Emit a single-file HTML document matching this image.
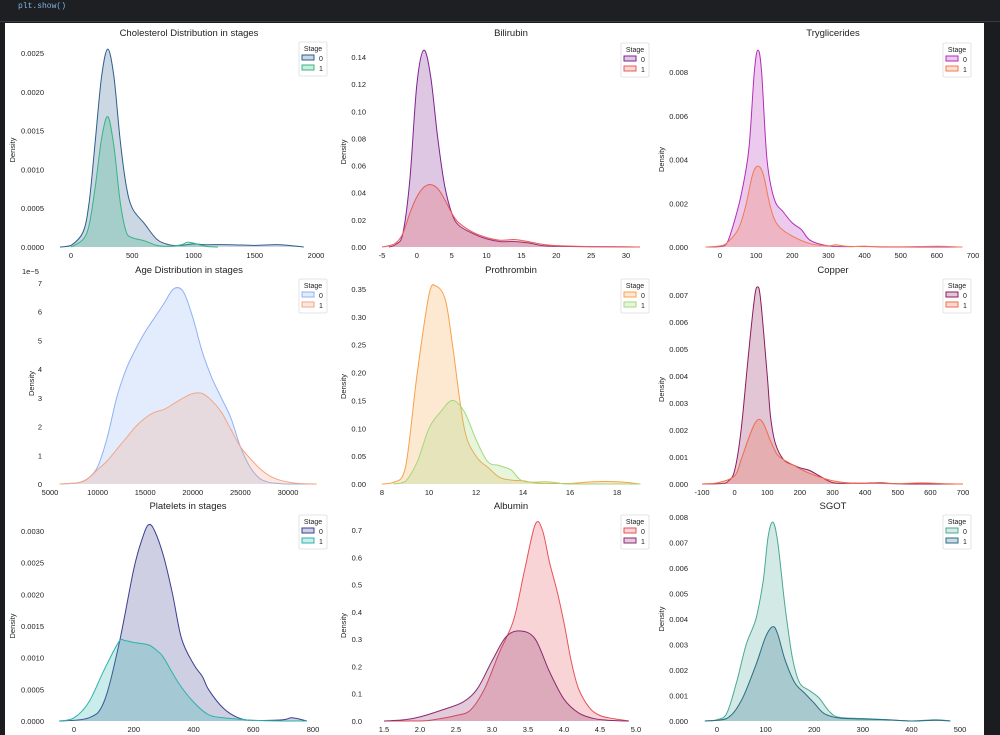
<!DOCTYPE html>
<html><head><meta charset="utf-8">
<style>
body{margin:0;width:1000px;height:735px;background:#1b1c1f;overflow:hidden;font-family:"Liberation Sans",sans-serif}
#top{position:absolute;left:0;top:0;width:1000px;height:21px;background:#1e1f22;border-bottom:1px solid #3a3b3e}
#code{position:absolute;left:18px;top:2px;font:8px "Liberation Mono",monospace;color:#7fb3e8}
#panel{position:absolute;left:5px;top:23px;width:979px;height:712px;background:#fff}
svg{position:absolute;left:0;top:0}
</style></head><body>
<div id="top"><span id="code">plt.show()</span></div>
<div id="panel"></div>
<svg id="fig" width="1000" height="735"></svg>
<script>
// ---- data ----
const cholX0=[-90,0,100,150,200,250,300,350,400,450,500,600,700,800,900,1000,1100,1300,1500,1700,1900];
const chol0=[0,0.00002,0.0002,0.0006,0.0014,0.0022,0.00255,0.0022,0.0014,0.0008,0.0005,0.0003,0.0001,0.00003,0.00002,0.00004,0.00003,0.00003,0.00002,0.00003,0];
const cholX1=[0,100,150,200,250,300,350,400,450,500,600,700,800,900,950,1000,1100,1200];
const chol1=[0,0.0001,0.0003,0.0008,0.0014,0.00168,0.0013,0.0006,0.0002,0.00012,0.00008,0.00002,0.00001,0.00003,0.00006,0.00005,0.00001,0];
const biliX0=[-4,-3,-2,-1,0,1,2,3,4,5,6,8,10,12,14,16,18,20,25,30,32];
const bili0=[0,0.002,0.01,0.05,0.12,0.145,0.125,0.08,0.045,0.025,0.016,0.01,0.006,0.004,0.004,0.003,0.001,0.0005,0.0002,0.0001,0];
const biliX1=[-5,-4,-3,-2,-1,0,1,2,3,4,5,6,8,10,12,14,16,18,20,25,30,32];
const bili1=[0,0.001,0.003,0.01,0.025,0.037,0.044,0.046,0.043,0.035,0.025,0.018,0.011,0.007,0.005,0.0055,0.004,0.002,0.001,0.0003,0.0001,0];
const trigX0=[-40,0,20,40,60,80,95,105,115,130,150,175,200,225,250,300,350,400,450,600,670];
const trig0=[0,0.00002,0.0002,0.0012,0.0025,0.0045,0.008,0.009,0.008,0.004,0.0022,0.0016,0.0011,0.0008,0.0003,0.00005,0.00002,0.00003,0,0,0];
const trigX1=[-40,0,20,50,70,90,105,120,140,160,200,250,300,320,350,400,500,600,670];
const trig1=[0,0.00005,0.0002,0.0008,0.0018,0.0033,0.0037,0.0033,0.0018,0.001,0.0005,0.00015,0.00005,0.0001,0.00003,0.00002,0.00001,0.00003,0];
const ageX0=[6000,8000,9000,10000,11000,12000,13000,14000,15000,16000,17000,18000,19000,20000,21000,22000,23000,24000,25000,26000,27000,28000,29000,30000,33000];
const age0=[0,0.05,0.2,0.6,1.6,3,4,4.7,5.3,5.8,6.3,6.8,6.7,5.8,4.6,3.7,3,2.3,1.3,0.6,0.2,0.06,0.02,0,0];
const ageX1=[6000,8000,9000,10000,11000,12000,13000,14000,15000,16000,17000,18000,19000,20000,21000,22000,23000,24000,25000,26000,27000,28000,29000,30000,31000,33000];
const age1=[0,0.05,0.2,0.5,0.8,1.2,1.6,2,2.3,2.5,2.6,2.8,3,3.15,3.15,2.9,2.5,1.9,1.3,0.9,0.55,0.3,0.15,0.07,0.02,0];
const proX0=[8,8.5,9,9.5,10,10.3,10.7,11,11.5,12,12.5,13,13.5,14,14.5,15,16,17,18,19];
const pro0=[0,0.003,0.03,0.2,0.34,0.355,0.33,0.25,0.1,0.05,0.03,0.012,0.007,0.006,0.002,0.001,0.001,0.004,0.004,0];
const proX1=[8.5,9,9.5,10,10.5,11,11.5,12,12.5,13,13.5,14,15,15.5,16,19];
const pro1=[0,0.005,0.04,0.1,0.13,0.15,0.13,0.08,0.04,0.033,0.025,0.005,0.004,0.002,0,0];
const cuX0=[-100,-40,-20,0,20,40,60,70,80,100,110,125,150,180,200,230,260,300,350,400,450,500,600,700];
const cu0=[0,0.00002,0.0001,0.0005,0.002,0.0045,0.0068,0.0073,0.0068,0.004,0.0025,0.0015,0.0009,0.0007,0.0006,0.0005,0.0003,0.00005,0.00003,0.00003,0.00004,0.00001,0,0];
const cuX1=[-100,-50,0,20,40,60,75,90,110,130,150,180,210,250,300,350,400,500,570,650,700];
const cu1=[0,0.00005,0.0003,0.0009,0.0016,0.0022,0.0024,0.0022,0.0016,0.0011,0.0009,0.0007,0.0005,0.0003,0.00012,0.00004,0.00003,0.00001,0.00004,0.00001,0];
const platX0=[-50,50,100,150,200,230,250,270,300,330,360,400,430,450,500,550,600,700,730,780];
const plat0=[0,0.00005,0.0003,0.0012,0.0024,0.0029,0.0031,0.003,0.0026,0.002,0.0013,0.0009,0.0007,0.0005,0.0002,0.00005,0.00001,0.00002,0.00005,0];
const platX1=[-50,0,50,100,150,170,200,250,280,300,350,400,450,500,550,600,700,780];
const plat1=[0,0.00005,0.0003,0.0008,0.00125,0.00127,0.00124,0.0012,0.0011,0.001,0.0006,0.0003,0.0001,0.00005,0.00003,0.00001,0,0];
const albX0=[1.5,2,2.2,2.5,2.7,2.9,3.1,3.3,3.45,3.6,3.7,3.8,3.9,4.0,4.1,4.2,4.35,4.5,4.7,4.9];
const alb0=[0,0,0.005,0.02,0.04,0.12,0.25,0.37,0.55,0.72,0.7,0.58,0.48,0.36,0.22,0.12,0.05,0.02,0.008,0];
const albX1=[1.5,1.8,2.0,2.3,2.6,2.8,3.0,3.2,3.4,3.6,3.8,4.0,4.2,4.4,4.6,4.9];
const alb1=[0,0.005,0.015,0.04,0.07,0.12,0.22,0.31,0.33,0.3,0.18,0.08,0.03,0.01,0.003,0];
const sgX0=[-25,0,20,40,60,80,95,105,115,125,140,155,170,190,210,230,250,300,350,400,450,480];
const sg0=[0,0.00005,0.0003,0.0015,0.003,0.004,0.0055,0.0072,0.0078,0.007,0.0045,0.0025,0.0015,0.0012,0.0009,0.0004,0.00015,0.0001,0.00005,0,0.00005,0];
const sgX1=[-25,20,50,80,100,115,125,140,160,180,200,220,250,300,350,400,450,480];
const sg1=[0,0.0001,0.0008,0.0022,0.0033,0.0037,0.0034,0.0024,0.0015,0.0011,0.0007,0.0003,0.00012,0.00008,0.00005,0,0.00003,0];
const cholTicksX=[0,500,1000,1500,2000], cholTicksY=[0,0.0005,0.001,0.0015,0.002,0.0025];
const biliTicksX=[-5,0,5,10,15,20,25,30], biliTicksY=[0,0.02,0.04,0.06,0.08,0.1,0.12,0.14];
const trigTicksX=[0,100,200,300,400,500,600,700], trigTicksY=[0,0.002,0.004,0.006,0.008];
const ageTicksX=[5000,10000,15000,20000,25000,30000], ageTicksY=[0,1,2,3,4,5,6,7];
const proTicksX=[8,10,12,14,16,18], proTicksY=[0,0.05,0.1,0.15,0.2,0.25,0.3,0.35];
const cuTicksX=[-100,0,100,200,300,400,500,600,700], cuTicksY=[0,0.001,0.002,0.003,0.004,0.005,0.006,0.007];
const platTicksX=[0,200,400,600,800], platTicksY=[0,0.0005,0.001,0.0015,0.002,0.0025,0.003];
const albTicksX=[1.5,2,2.5,3,3.5,4,4.5,5], albTicksY=[0,0.1,0.2,0.3,0.4,0.5,0.6,0.7];
const sgTicksX=[0,100,200,300,400,500], sgTicksY=[0,0.001,0.002,0.003,0.004,0.005,0.006,0.007,0.008];

const NS='http://www.w3.org/2000/svg';
const fig=document.getElementById('fig');
function el(tag,attrs,parent){const e=document.createElementNS(NS,tag);for(const k in attrs)e.setAttribute(k,attrs[k]);(parent||fig).appendChild(e);return e;}
let ybase=0;
function smooth(pts){let d='M'+pts[0][0]+','+pts[0][1];
 for(let i=0;i<pts.length-1;i++){const p0=pts[Math.max(0,i-1)],p1=pts[i],p2=pts[i+1],p3=pts[Math.min(pts.length-1,i+2)];
  const c1=[p1[0]+(p2[0]-p0[0])/6,p1[1]+(p2[1]-p0[1])/6],c2=[p2[0]-(p3[0]-p1[0])/6,p2[1]-(p3[1]-p1[1])/6];
  d+=' C'+c1[0].toFixed(1)+','+Math.min(c1[1],ybase).toFixed(1)+' '+c2[0].toFixed(1)+','+Math.min(c2[1],ybase).toFixed(1)+' '+p2[0].toFixed(1)+','+p2[1].toFixed(1);}
 return d;}
function panel(cfg){
 const g=el('g',{});
 
 
 const sx=v=>cfg.x0p+(v-cfg.x0v)*(cfg.x1p-cfg.x0p)/(cfg.x1v-cfg.x0v);
 const sy=v=>cfg.y0p+(v)*(cfg.y1p-cfg.y0p)/(cfg.y1v);
 ybase=cfg.y0p;
 const t=el('text',{x:cfg.tx,y:cfg.ty,'text-anchor':'middle','font-size':9.5,fill:'#222'},g);t.textContent=cfg.title;
 
 
 cfg.ticksX.forEach(v=>{const e=el('text',{x:sx(v),y:cfg.y0p+11,'text-anchor':'middle','font-size':7.5,fill:'#222'},g);e.textContent=cfg.fx(v);
  
  });
 cfg.ticksY.forEach(v=>{const e=el('text',{x:cfg.ylx,y:sy(v)+3,'text-anchor':'end','font-size':7.5,fill:'#222'},g);e.textContent=cfg.fy(v);
  
  });
 const yl=el('text',{x:0,y:0,transform:'translate('+cfg.dx+','+((cfg.y0p+cfg.y1p)/2)+') rotate(-90)','text-anchor':'middle','font-size':7.5,fill:'#222'},g);yl.textContent='Density';
 
 
 if(cfg.exp){const e=el('text',{x:cfg.ylx-20,y:cfg.y1p-9,'font-size':7.5,fill:'#222'},g);e.textContent=cfg.exp;
  
  }
 cfg.series.forEach((s,i)=>{
  const pts=s.x.map((xv,j)=>[sx(xv),sy(s.y[j])]);
  const d=smooth(pts);
  const f=el('path',{d:d+' L'+pts[pts.length-1][0]+','+cfg.y0p+' L'+pts[0][0]+','+cfg.y0p+' Z',fill:s.c,'fill-opacity':0.25,stroke:'none'},g);
  
  
  const l=el('path',{d:d,fill:'none',stroke:s.c,'stroke-width':1},g);
  
  
 });
 const lx=cfg.lx, ly=cfg.ly;
 const lg=el('g',{},g);
 
 
 el('rect',{x:lx,y:ly,width:28,height:34,fill:'#fff',stroke:'#ddd','stroke-width':0.8,rx:1.5},lg);
 const lt=el('text',{x:lx+14,y:ly+9,'text-anchor':'middle','font-size':7,fill:'#222'},lg);lt.textContent='Stage';
 cfg.series.forEach((s,i)=>{
  el('rect',{x:lx+3,y:ly+13+i*10,width:12,height:5,fill:s.c,'fill-opacity':0.25,stroke:s.c,'stroke-width':1},lg);
  const e=el('text',{x:lx+20,y:ly+19+i*10,'font-size':7,fill:'#222'},lg);e.textContent=String(i);
  
  
 });
}
const f4=v=>v.toFixed(4),f3=v=>v.toFixed(3),f2=v=>v.toFixed(2),f1=v=>v.toFixed(1),f0=v=>String(v);
panel({name:'cholesterol',title:'Cholesterol Distribution in stages',tx:189,ty:36,ly:42,x0v:0,x0p:71,x1v:2000,x1p:316,y0p:247,y1v:0.0025,y1p:53,ticksX:cholTicksX,ticksY:cholTicksY,fx:f0,fy:f4,ylx:44,dx:15,lx:299,
 series:[{x:cholX0,y:chol0,c:'#2e5e8c'},{x:cholX1,y:chol1,c:'#33b583'}]});
panel({name:'bilirubin',title:'Bilirubin',tx:511,ty:36,ly:43,x0v:-5,x0p:382,x1v:30,x1p:626,y0p:247,y1v:0.14,y1p:57,ticksX:biliTicksX,ticksY:biliTicksY,fx:f0,fy:f2,ylx:366,dx:346,lx:621,
 series:[{x:biliX0,y:bili0,c:'#7d2190'},{x:biliX1,y:bili1,c:'#ec5a55'}]});
panel({name:'tryglicerides',title:'Tryglicerides',tx:833,ty:36,ly:43,x0v:0,x0p:720,x1v:700,x1p:973,y0p:247,y1v:0.008,y1p:72,ticksX:trigTicksX,ticksY:trigTicksY,fx:f0,fy:f3,ylx:688,dx:664,lx:943,
 series:[{x:trigX0,y:trig0,c:'#b52ab8'},{x:trigX1,y:trig1,c:'#f27a50'}]});
panel({name:'age',title:'Age Distribution in stages',tx:189,ty:273,ly:279,x0v:5000,x0p:50,x1v:30000,x1p:288,y0p:484,y1v:7,y1p:283,ticksX:ageTicksX,ticksY:ageTicksY,fx:f0,fy:f0,ylx:42,dx:34,lx:299,exp:'1e\u22125',
 series:[{x:ageX0,y:age0,c:'#8fb2f2'},{x:ageX1,y:age1,c:'#f4a584'}]});
panel({name:'prothrombin',title:'Prothrombin',tx:511,ty:273,ly:279,x0v:8,x0p:382,x1v:18,x1p:617,y0p:484,y1v:0.35,y1p:289,ticksX:proTicksX,ticksY:proTicksY,fx:f0,fy:f2,ylx:366,dx:346,lx:621,
 series:[{x:proX0,y:pro0,c:'#f7a24a'},{x:proX1,y:pro1,c:'#a3d977'}]});
panel({name:'copper',title:'Copper',tx:833,ty:273,ly:279,x0v:-100,x0p:702,x1v:700,x1p:963,y0p:484,y1v:0.007,y1p:295,ticksX:cuTicksX,ticksY:cuTicksY,fx:f0,fy:f3,ylx:688,dx:664,lx:943,
 series:[{x:cuX0,y:cu0,c:'#8c1b5c'},{x:cuX1,y:cu1,c:'#f16a48'}]});
panel({name:'platelets',title:'Platelets in stages',tx:188,ty:509,ly:515,x0v:0,x0p:74,x1v:800,x1p:313,y0p:721,y1v:0.003,y1p:531,ticksX:platTicksX,ticksY:platTicksY,fx:f0,fy:f4,ylx:44,dx:15,lx:299,
 series:[{x:platX0,y:plat0,c:'#3c3f91'},{x:platX1,y:plat1,c:'#2ab3aa'}]});
panel({name:'albumin',title:'Albumin',tx:511,ty:509,ly:515,x0v:1.5,x0p:384,x1v:5,x1p:636,y0p:721,y1v:0.7,y1p:530,ticksX:albTicksX,ticksY:albTicksY,fx:f1,fy:f1,ylx:362,dx:346,lx:621,
 series:[{x:albX0,y:alb0,c:'#e8525a'},{x:albX1,y:alb1,c:'#8b2a70'}]});
panel({name:'sgot',title:'SGOT',tx:833,ty:509,ly:515,x0v:0,x0p:717,x1v:500,x1p:960,y0p:721,y1v:0.008,y1p:517,ticksX:sgTicksX,ticksY:sgTicksY,fx:f0,fy:f3,ylx:688,dx:664,lx:943,
 series:[{x:sgX0,y:sg0,c:'#4aa896'},{x:sgX1,y:sg1,c:'#2a6d88'}]});
</script>
</body></html>
